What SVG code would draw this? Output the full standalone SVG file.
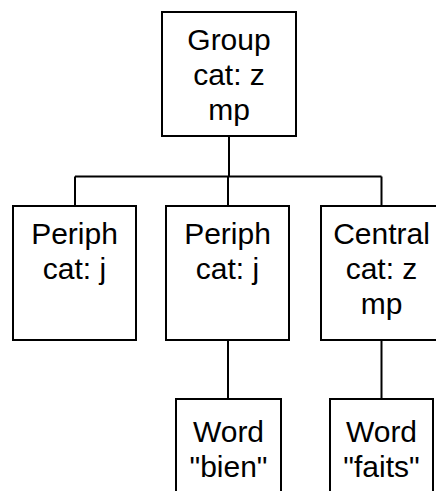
<svg xmlns="http://www.w3.org/2000/svg" width="436" height="491" viewBox="0 0 436 491">
  <style>
    .box { fill: #ffffff; stroke: #000000; stroke-width: 2; }
    .edge { fill: none; stroke: #000000; stroke-width: 2; }
    text { font-family: "Liberation Sans", Arial, sans-serif; font-size: 30px; fill: #000000; text-anchor: middle; }
  </style>
  <rect width="436" height="491" fill="#ffffff"/>
  <g id="connectors">
    <!-- bus from Group down to the three daughters -->
    <path class="edge" d="M229 136 V176.5 M75 176.5 H381.5 M75 176.5 V206 M228 176.5 V206 M381.5 176.5 V206"/>
    <!-- word leaves -->
    <path class="edge" d="M228 340 V399 M381.5 340 V399"/>
  </g>
  <g id="group">
    <rect class="box" x="162" y="12" width="134" height="124"/>
    <text x="229" y="50">Group</text>
    <text x="229" y="85">cat: z</text>
    <text x="229" y="120">mp</text>
  </g>
  <g id="periph1">
    <rect class="box" x="13" y="206" width="123" height="134"/>
    <text x="74.5" y="244">Periph</text>
    <text x="74.5" y="279">cat: j</text>
  </g>
  <g id="periph2">
    <rect class="box" x="166" y="206" width="123" height="134"/>
    <text x="227.5" y="244">Periph</text>
    <text x="227.5" y="279">cat: j</text>
  </g>
  <g id="central">
    <rect class="box" x="321" y="206" width="123" height="134"/>
    <text x="381.5" y="244">Central</text>
    <text x="381.5" y="279">cat: z</text>
    <text x="381.5" y="314">mp</text>
  </g>
  <g id="word1">
    <rect class="box" x="176" y="399" width="105" height="100"/>
    <text x="228.5" y="442">Word</text>
    <text x="228.5" y="477">"bien"</text>
  </g>
  <g id="word2">
    <rect class="box" x="330" y="399" width="103" height="100"/>
    <text x="381.5" y="442">Word</text>
    <text x="381.5" y="477">"faits"</text>
  </g>
</svg>
